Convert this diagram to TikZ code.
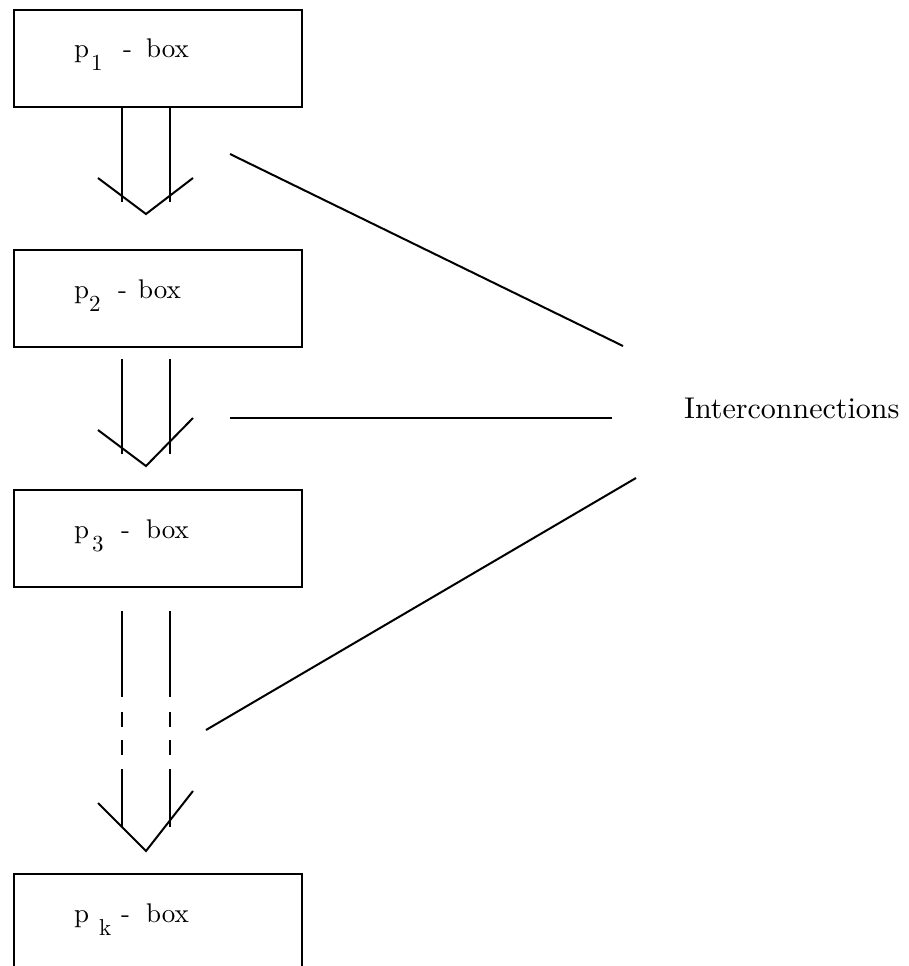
\documentclass[tikz,border=0pt]{standalone}
\usepackage{fontspec}
\setmainfont{lmroman10-regular.otf}
\usetikzlibrary{calc}
\newcommand{\boxlab}[4]{%
  \fontsize{27}{30}\selectfont
  \rlap{p}\hspace*{#1}%
  \rlap{\raisebox{-13pt}{\fontsize{23}{25}\selectfont #2}}%
  \hspace*{\dimexpr#3-#1\relax}\rlap{-}%
  \hspace*{\dimexpr#4-#3\relax}box}
\tikzset{
  pbox/.style={draw, line width=2.5pt, minimum width=288pt, minimum height=97pt, inner sep=0pt},
  plab/.style={anchor=base west, inner sep=0pt},
  wire/.style={line width=2pt},
}
\begin{document}
\begin{tikzpicture}[x=1pt, y=-1pt]
\useasboundingbox (0,0) rectangle (909,966);
\clip (0,0) rectangle (909,966);
% boxes
\node[pbox] (b1) at (158,58.5) {};
\node[pbox] (b2) at (158,298.5) {};
\node[pbox] (b3) at (158,538.5) {};
\node[pbox] (bk) at (158,922.5) {};
% labels
\node[plab] (l1) at (74,58) {\boxlab{17pt}{1}{49pt}{72pt}};
\node[plab] (l2) at (74,298) {\boxlab{15pt}{2}{44pt}{64pt}};
\node[plab] (l3) at (74,538) {\boxlab{18pt}{3}{47pt}{72pt}};
\node[plab] (lk) at (74,922) {\boxlab{25pt}{k}{47pt}{72pt}};
\node[anchor=base west, inner sep=0pt, font=\fontsize{30}{34}\selectfont] (ic) at (684,418) {Interconnections};
% arrow 1
\draw[wire] (b1.south -| 122,0) -- (122,202);
\draw[wire] (b1.south -| 170,0) -- (170,202);
\draw[wire] (98,178) -- (146,214) -- (193,178);
% arrow 2
\coordinate (a2l) at (122,359);
\coordinate (a2r) at (170,359);
\draw[wire] (a2l) -- (122,454);
\draw[wire] (a2r) -- (170,454);
\draw[wire] (98,430) -- (146,466) -- (193,418);
% arrow 3 (broken)
\foreach \x in {122,170}{
  \draw[wire] (\x,611) -- (\x,697);
  \draw[wire] (\x,712) -- (\x,727);
  \draw[wire] (\x,740) -- (\x,755);
  \draw[wire] (\x,769) -- (\x,827);
}
\draw[wire] (98,803) -- (146,851) -- (193,791);
% interconnection lines
\coordinate (i1a) at (230,154);
\coordinate (i1b) at (623,346);
\coordinate (i2a) at (230,418);
\coordinate (i2b) at (612,418);
\coordinate (i3a) at (206,730);
\coordinate (i3b) at (636,478);
\draw[wire] (i1a) -- (i1b);
\draw[wire] (i2a) -- (i2b);
\draw[wire] (i3a) -- (i3b);
\end{tikzpicture}
\end{document}
